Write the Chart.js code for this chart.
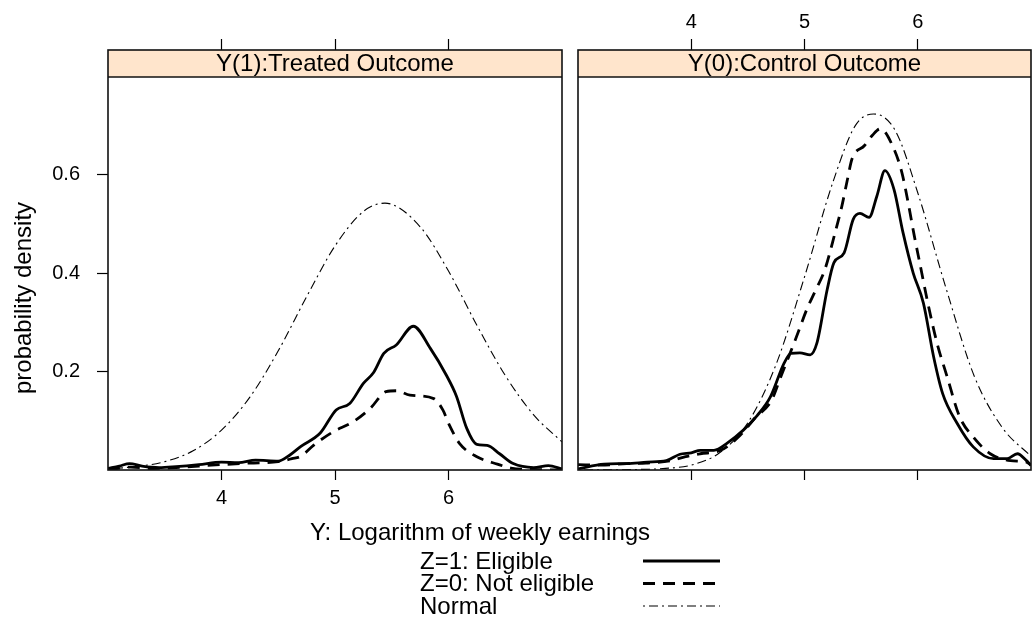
<!DOCTYPE html>
<html lang="en">
<head>
  <meta charset="UTF-8">
  <title>Treated and control outcome densities</title>
  <script src="https://cdn.jsdelivr.net/npm/chart.js"></script>
  <style>
    body { margin: 0; background: #fff; }
    #wrap { position: relative; width: 1032px; height: 620px; }
    #wrap canvas { position: absolute; top: 0; }
    #leftChart { left: 0; }
    #rightChart { left: 570px; }
  </style>
</head>
<body>
  <div id="wrap">
    <canvas id="leftChart" width="1032" height="620"></canvas>
    <canvas id="rightChart" width="462" height="620"></canvas>
  </div>

  <script>
    // axis ticks and labels
    const xTicks = [4, 5, 6];
    const yTicks = [0.2, 0.4, 0.6];
    const panelTitles = ['Y(1):Treated Outcome', 'Y(0):Control Outcome'];
    const seriesNames = ['Z=1: Eligible', 'Z=0: Not eligible', 'Normal'];
    const xTitle = 'Y: Logarithm of weekly earnings';
    const yTitle = 'probability density';

    // Y(1) panel, Z=1 eligible
    const leftEligX = [3.0, 3.1, 3.19, 3.3, 3.45, 3.6, 3.8, 4.0, 4.15, 4.3, 4.5, 4.6, 4.7, 4.87, 5.01, 5.13, 5.25, 5.34, 5.43, 5.54, 5.69, 5.84, 5.98, 6.07, 6.16, 6.25, 6.34, 6.45, 6.57, 6.75, 6.88, 7.0];
    const leftEligY = [0.003, 0.008, 0.013, 0.008, 0.005, 0.007, 0.011, 0.016, 0.015, 0.020, 0.018, 0.030, 0.048, 0.075, 0.122, 0.135, 0.176, 0.198, 0.237, 0.254, 0.292, 0.247, 0.193, 0.150, 0.085, 0.052, 0.050, 0.033, 0.013, 0.005, 0.009, 0.002];
    // Y(1) panel, Z=0 not eligible
    const leftNotX = [3.0, 3.2, 3.4, 3.6, 3.8, 4.0, 4.25, 4.5, 4.62, 4.7, 4.81, 4.98, 5.16, 5.31, 5.45, 5.54, 5.66, 5.87, 5.95, 6.01, 6.10, 6.25, 6.43, 6.55, 6.75, 7.0];
    const leftNotY = [0.000, 0.006, 0.003, 0.005, 0.008, 0.011, 0.014, 0.017, 0.023, 0.028, 0.050, 0.077, 0.098, 0.125, 0.159, 0.161, 0.152, 0.145, 0.122, 0.090, 0.053, 0.027, 0.012, 0.004, 0.001, 0.000];
    // Y(1) panel, normal
    const leftNormX = [3.0, 3.25, 3.5, 3.75, 4.0, 4.25, 4.5, 4.75, 5.0, 5.25, 5.44, 5.75, 6.0, 6.25, 6.5, 6.75, 7.0];
    const leftNormY = [0.002, 0.007, 0.017, 0.039, 0.081, 0.148, 0.242, 0.352, 0.455, 0.525, 0.542, 0.494, 0.404, 0.294, 0.192, 0.112, 0.057];

    // Y(0) panel, Z=1 eligible
    const rightEligX = [3.0, 3.23, 3.43, 3.61, 3.78, 3.9, 4.0, 4.08, 4.2, 4.32, 4.46, 4.58, 4.70, 4.82, 4.88, 4.96, 5.05, 5.11, 5.20, 5.26, 5.35, 5.43, 5.49, 5.57, 5.64, 5.71, 5.79, 5.87, 5.96, 6.05, 6.14, 6.22, 6.35, 6.49, 6.67, 6.79, 6.88, 6.96, 7.0];
    const rightEligY = [0.002, 0.012, 0.013, 0.016, 0.019, 0.032, 0.035, 0.040, 0.040, 0.055, 0.081, 0.110, 0.149, 0.217, 0.237, 0.238, 0.234, 0.258, 0.366, 0.421, 0.441, 0.509, 0.521, 0.513, 0.557, 0.608, 0.570, 0.482, 0.400, 0.339, 0.230, 0.155, 0.094, 0.047, 0.023, 0.023, 0.033, 0.019, 0.009];
    // Y(0) panel, Z=0 not eligible
    const rightNotX = [3.0, 3.2, 3.43, 3.6, 3.82, 3.95, 4.08, 4.26, 4.43, 4.56, 4.71, 4.79, 4.93, 5.02, 5.10, 5.18, 5.27, 5.33, 5.38, 5.42, 5.53, 5.60, 5.67, 5.79, 5.86, 5.92, 5.97, 6.02, 6.09, 6.17, 6.26, 6.37, 6.49, 6.64, 6.82, 6.96, 7.0];
    const rightNotY = [0.011, 0.010, 0.013, 0.014, 0.019, 0.027, 0.033, 0.040, 0.070, 0.105, 0.142, 0.189, 0.271, 0.326, 0.366, 0.407, 0.482, 0.536, 0.591, 0.632, 0.659, 0.680, 0.693, 0.652, 0.604, 0.537, 0.475, 0.418, 0.338, 0.258, 0.189, 0.108, 0.067, 0.033, 0.019, 0.016, 0.010];
    // Y(0) panel, normal
    const rightNormX = [3.0, 3.5, 3.75, 4.0, 4.25, 4.5, 4.75, 5.0, 5.25, 5.45, 5.61, 5.8, 6.0, 6.25, 6.5, 6.75, 7.0];
    const rightNormY = [0.000, 0.001, 0.003, 0.010, 0.035, 0.096, 0.215, 0.392, 0.584, 0.700, 0.723, 0.690, 0.563, 0.369, 0.190, 0.085, 0.028];

    const FONT = '"Liberation Sans", Arial, Helvetica, sans-serif';
    const yMax = 0.853;      // top of the panel incl. strip
    const STRIP_H = 27;

    Chart.defaults.font.family = FONT;
    Chart.defaults.color = '#000';

    const lineStyles = [
      { borderWidth: 2.8, borderDash: [] },
      { borderWidth: 2.8, borderDash: [12, 8] },
      { borderWidth: 1.1, borderDash: [2, 4, 9, 4] }
    ];

    function points(xs, ys) {
      return xs.map((x, i) => ({ x: x, y: ys[i] }));
    }

    function makeDatasets(series) {
      return series.map((s, i) => ({
        label: seriesNames[i],
        data: points(s[0], s[1]),
        borderColor: '#000',
        borderWidth: lineStyles[i].borderWidth,
        borderDash: lineStyles[i].borderDash,
        pointRadius: 0,
        fill: false,
        cubicInterpolationMode: 'monotone'
      }));
    }

    function panelScales(isLeft) {
      const setX = s => { s.ticks = xTicks.map(v => ({ value: v })); };
      return {
        x: {
          type: 'linear', position: 'bottom', min: 3, max: 7,
          afterBuildTicks: setX,
          afterFit: s => { s.height = 150; },
          grid: { drawOnChartArea: false, tickLength: 10, color: '#000', tickWidth: 1.2 },
          border: { display: false },
          ticks: { display: isLeft, font: { size: 20 }, padding: 6 }
        },
        xTop: {
          type: 'linear', position: 'top', min: 3, max: 7,
          afterBuildTicks: setX,
          afterFit: s => { s.height = 50; },
          grid: { drawOnChartArea: false, tickLength: 11, color: '#000', tickWidth: 1.2 },
          border: { display: false },
          ticks: { display: !isLeft, font: { size: 20 }, padding: 5 }
        },
        y: {
          type: 'linear', position: 'left', min: 0, max: yMax,
          display: isLeft,
          afterBuildTicks: s => { s.ticks = yTicks.map(v => ({ value: v })); },
          afterFit: s => { s.width = isLeft ? 108 : 0; },
          grid: { drawOnChartArea: false, tickLength: 11, color: '#000', tickWidth: 1.2 },
          border: { display: false },
          ticks: { font: { size: 20 }, padding: 17, callback: v => v.toFixed(1) }
        }
      };
    }

    // strip on top of each panel and the panel frame
    const stripPlugin = {
      id: 'strip',
      afterDraw(chart, args, opts) {
        const { ctx, chartArea: a } = chart;
        const w = a.right - a.left;
        ctx.save();
        ctx.fillStyle = '#ffe5cc';
        ctx.fillRect(a.left, a.top, w, STRIP_H);
        ctx.strokeStyle = '#111';
        ctx.lineWidth = 1.6;
        ctx.strokeRect(a.left, a.top, w, a.bottom - a.top);
        ctx.beginPath();
        ctx.moveTo(a.left, a.top + STRIP_H);
        ctx.lineTo(a.right, a.top + STRIP_H);
        ctx.stroke();
        ctx.fillStyle = '#000';
        ctx.font = '24px ' + FONT;
        ctx.textAlign = 'center';
        ctx.textBaseline = 'middle';
        ctx.fillText(opts.title, a.left + w / 2, a.top + STRIP_H / 2 + 1);
        ctx.restore();
      }
    };

    // axis titles and the key below the panels
    const keyPlugin = {
      id: 'key',
      afterDraw(chart) {
        const ctx = chart.ctx;
        ctx.save();
        ctx.fillStyle = '#000';
        ctx.strokeStyle = '#000';
        ctx.textBaseline = 'middle';

        ctx.font = '24px ' + FONT;
        ctx.textAlign = 'center';
        ctx.fillText(xTitle, 480, 533);

        ctx.save();
        ctx.translate(24, 298);
        ctx.rotate(-Math.PI / 2);
        ctx.fillText(yTitle, 0, 0);
        ctx.restore();

        ctx.font = '24px ' + FONT;
        ctx.textAlign = 'left';
        seriesNames.forEach((name, i) => {
          const y = 562 + i * 22.5;
          ctx.fillText(name, 420, y);
          ctx.lineWidth = lineStyles[i].borderWidth;
          ctx.setLineDash(lineStyles[i].borderDash);
          ctx.beginPath();
          ctx.moveTo(643, y - 1);
          ctx.lineTo(720, y - 1);
          ctx.stroke();
        });
        ctx.restore();
      }
    };

    new Chart(document.getElementById('leftChart'), {
      type: 'line',
      data: {
        datasets: makeDatasets([[leftEligX, leftEligY], [leftNotX, leftNotY], [leftNormX, leftNormY]])
      },
      options: {
        responsive: false,
        animation: false,
        layout: { padding: { left: 0, right: 470, top: 0, bottom: 0 } },
        scales: panelScales(true),
        plugins: {
          legend: { display: false },
          tooltip: { enabled: false },
          strip: { title: panelTitles[0] }
        }
      },
      plugins: [stripPlugin, keyPlugin]
    });

    new Chart(document.getElementById('rightChart'), {
      type: 'line',
      data: {
        datasets: makeDatasets([[rightEligX, rightEligY], [rightNotX, rightNotY], [rightNormX, rightNormY]])
      },
      options: {
        responsive: false,
        animation: false,
        layout: { padding: { left: 8, right: 1, top: 0, bottom: 0 } },
        scales: panelScales(false),
        plugins: {
          legend: { display: false },
          tooltip: { enabled: false },
          strip: { title: panelTitles[1] }
        }
      },
      plugins: [stripPlugin]
    });
  </script>
</body>
</html>
